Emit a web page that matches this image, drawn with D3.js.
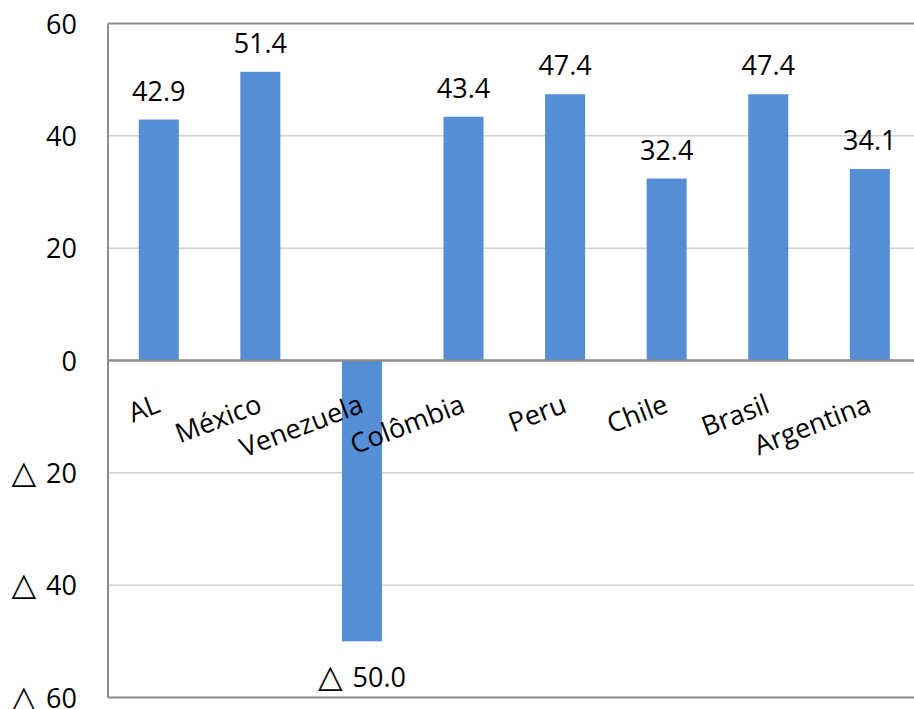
<!DOCTYPE html>
<html>
<head>
<meta charset="utf-8">
<script src="https://cdn.jsdelivr.net/npm/d3@7/dist/d3.min.js"></script>
<style>
  html, body { margin: 0; padding: 0; background: #fff; }
  svg { display: block; font-family: "Open Sans", "Noto Sans", sans-serif; }
</style>
</head>
<body>
<svg id="chart" width="914" height="709"></svg>
<script>
// Categories and values
const categories = ["AL", "México", "Venezuela", "Colômbia", "Peru", "Chile", "Brasil", "Argentina"];
const values = [42.9, 51.4, -50.0, 43.4, 47.4, 32.4, 47.4, 34.1];
const yTicks = [60, 40, 20, 0, -20, -40, -60];

const FONT = 27;

// Negative numbers are written with a triangle prefix
function writeNumber(sel, v, digits) {
  const txt = digits == null ? String(Math.abs(v)) : Math.abs(v).toFixed(digits);
  if (v < 0) {
    sel.append("tspan")
      .attr("font-family", "DejaVu Sans")
      .attr("font-size", 32)
      .text("\u25B3");
    sel.append("tspan").attr("dx", 10).text(txt);
  } else {
    sel.text(txt);
  }
}

const svg = d3.select("#chart");
const plotLeft = 108, plotTop = 23.5, plotBottom = 697.5, plotRight = 920.6;

const x = d3.scaleBand().domain(categories).range([plotLeft, plotRight]).paddingInner(0.606).paddingOuter(0.303);
const y = d3.scaleLinear().domain([-60, 60]).range([plotBottom, plotTop]);

// Horizontal gridlines
svg.append("g").selectAll("line").data(yTicks).join("line")
  .attr("x1", plotLeft).attr("x2", plotRight)
  .attr("y1", d => y(d)).attr("y2", d => y(d))
  .attr("stroke", d => (d === 0 || Math.abs(d) === 60) ? "#8c8c8c" : "#d0d0d0")
  .attr("stroke-width", d => (d === 0 || Math.abs(d) === 60) ? 2 : 1.5);

// Bars
svg.append("g").selectAll("rect").data(values).join("rect")
  .attr("x", (d, i) => x(categories[i]))
  .attr("width", x.bandwidth())
  .attr("y", d => y(Math.max(0, d)))
  .attr("height", d => Math.abs(y(d) - y(0)))
  .attr("fill", "#558ed5");

// Zero line over bars
svg.append("line").attr("x1", plotLeft).attr("x2", plotRight)
  .attr("y1", y(0)).attr("y2", y(0)).attr("stroke", "#8c8c8c").attr("stroke-width", 2);

// Vertical axis line
svg.append("line").attr("x1", plotLeft).attr("x2", plotLeft)
  .attr("y1", y(60)).attr("y2", y(-60)).attr("stroke", "#8c8c8c").attr("stroke-width", 2);

// Y tick labels
svg.append("g").selectAll("text").data(yTicks).join("text")
  .attr("x", 77).attr("y", d => y(d) + 10)
  .attr("text-anchor", "end")
  .attr("font-size", FONT)
  .attr("fill", "#000")
  .each(function (d) { writeNumber(d3.select(this), d, null); });

// Value labels
svg.append("g").selectAll("text").data(values).join("text")
  .attr("x", (d, i) => x(categories[i]) + x.bandwidth() / 2)
  .attr("y", d => d >= 0 ? y(d) - 19 : y(d) + 46)
  .attr("text-anchor", "middle")
  .attr("font-size", FONT)
  .attr("fill", "#000")
  .each(function (d) { writeNumber(d3.select(this), d, 1); });

// Rotated category labels
svg.append("g").selectAll("text").data(categories).join("text")
  .attr("transform", d => `translate(${x(d) + x.bandwidth() / 2 + 3},${y(0) + 51}) rotate(-21)`)
  .attr("text-anchor", "end")
  .attr("font-size", FONT)
  .attr("fill", "#000")
  .text(d => d);
</script>
</body>
</html>
